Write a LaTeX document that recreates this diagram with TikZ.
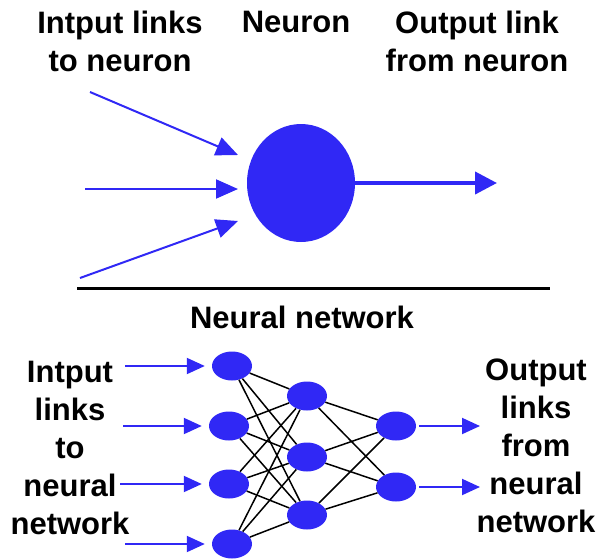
\documentclass[tikz,border=0pt]{standalone}
\usepackage{fontspec}
\setmainfont{Liberation Sans}
\usetikzlibrary{arrows.meta,shapes.geometric}
\definecolor{nblue}{RGB}{48,40,245}

\begin{document}
\begin{tikzpicture}[%
      x=1pt, y=-1pt,
      lbl/.style={font=\fontsize{31}{38}\selectfont\bfseries, align=center, inner sep=0pt},
      cell/.style={ellipse, fill=nblue, minimum width=40pt, minimum height=29pt, inner sep=0pt},
      link/.style={color=black, line width=1.5pt},
      inarrow/.style={color=nblue, line width=2pt, -{Triangle[length=22pt,width=19pt]}},
      netarrow/.style={color=nblue, line width=2pt, -{Triangle[length=18pt,width=16pt]}},
      ]
      \useasboundingbox (0,0) rectangle (603,558);

      \node [lbl] (inlabel) at (120,41) {Intput links\\to neuron};
      \node [lbl] (neuronlabel) at (296,22) {Neuron};
      \node [lbl] (outlabel) at (477,41) {Output link\\from neuron};

      \node [ellipse, fill=nblue, minimum width=108pt, minimum height=118pt, inner sep=0pt] (neuron) at (301,183) {};

      \coordinate (tin1) at (90,92);
      \coordinate (tend1) at (238,155);
      \coordinate (tin2) at (85,189);
      \coordinate (tend2) at (238,189);
      \coordinate (tin3) at (80,278);
      \coordinate (tend3) at (238,221);
      \coordinate (tout) at (497,183);

      \draw [inarrow] (tin1) -- (tend1);
      \draw [inarrow] (tin2) -- (tend2);
      \draw [inarrow] (tin3) -- (tend3);
      \draw [color=nblue, line width=4pt, -{Triangle[length=22pt,width=22pt]}] (neuron) -- (tout);

      \coordinate (rulel) at (77,288);
      \coordinate (ruler) at (550,288);
      \draw [color=black, line width=3pt] (rulel) -- (ruler);

      \node [lbl] (netlabel) at (302,317) {Neural network};
      \node [lbl] (netin) at (70,448) {Intput\\links\\to\\neural\\network};
      \node [lbl] (netout) at (536,446) {Output\\links\\from\\neural\\network};

      \node [cell] (n1) at (232,366) {};
      \node [cell] (n2) at (229,426) {};
      \node [cell] (n3) at (229,484) {};
      \node [cell] (n4) at (232,544) {};
      \node [cell] (h1) at (307,396) {};
      \node [cell] (h2) at (307,457) {};
      \node [cell] (h3) at (307,515) {};
      \node [cell] (o1) at (396,426) {};
      \node [cell] (o2) at (396,487) {};

      \draw [link] (n1) -- (h1);
      \draw [link] (n1) -- (h2);
      \draw [link] (n1) -- (h3);
      \draw [link] (n2) -- (h1);
      \draw [link] (n2) -- (h2);
      \draw [link] (n2) -- (h3);
      \draw [link] (n3) -- (h1);
      \draw [link] (n3) -- (h2);
      \draw [link] (n3) -- (h3);
      \draw [link] (n4) -- (h1);
      \draw [link] (n4) -- (h2);
      \draw [link] (n4) -- (h3);
      \draw [link] (h1) -- (o1);
      \draw [link] (h1) -- (o2);
      \draw [link] (h2) -- (o1);
      \draw [link] (h2) -- (o2);
      \draw [link] (h3) -- (o1);
      \draw [link] (h3) -- (o2);

      \coordinate (in1) at (125,366);
      \coordinate (in2) at (123,426);
      \coordinate (in3) at (120,484);
      \coordinate (in4) at (125,544);
      \coordinate (out1) at (480,426);
      \coordinate (out2) at (480,487);

      \draw [netarrow, shorten >=7pt] (in1) -- (n1);
      \draw [netarrow, shorten >=7pt] (in2) -- (n2);
      \draw [netarrow, shorten >=7pt] (in3) -- (n3);
      \draw [netarrow, shorten >=7pt] (in4) -- (n4);
      \draw [netarrow, shorten <=3pt] (o1) -- (out1);
      \draw [netarrow, shorten <=3pt] (o2) -- (out2);
\end{tikzpicture}
\end{document}
